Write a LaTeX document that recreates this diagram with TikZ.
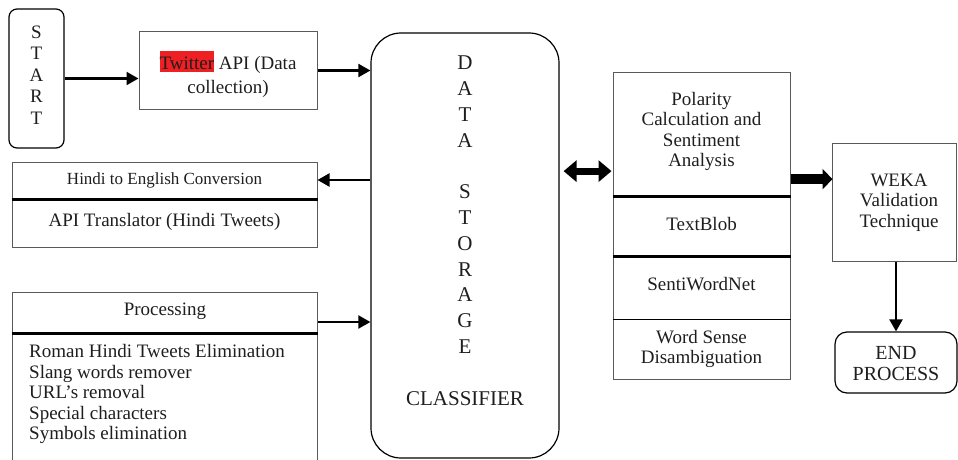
\documentclass[tikz,border=0pt]{standalone}
\usepackage{fontspec}
\setmainfont{Liberation Serif}
\usetikzlibrary{arrows.meta,calc}
\definecolor{twred}{HTML}{EE2024}
\definecolor{edgegray}{HTML}{5A5A5A}
\definecolor{inkgray}{HTML}{1E1E1E}
\begin{document}
\begin{tikzpicture}[x=1pt,y=1pt,
  txt/.style={font=\fontsize{19}{20.5}\selectfont, align=center, inner sep=0, text=inkgray},
  box/.style={draw=edgegray, line width=1pt, inner sep=0},
  roundbox/.style={draw=black, line width=1.2pt, inner sep=0},
  divider/.style={line width=2.4pt},
  thindiv/.style={line width=1.2pt},
  arr/.style={line width=2.1pt, -{Triangle[length=12pt,width=13pt]}},
  fatarr/.style={line width=7pt, {Triangle[length=13pt,width=21pt]}-{Triangle[length=13pt,width=21pt]}},
  widearr/.style={line width=10pt, -{Triangle[length=10pt,width=20pt]}},
]
\useasboundingbox (0,0) rectangle (958,459);

% start terminal
\node[roundbox, rounded corners=8, minimum width=55, minimum height=139] (start) at (36.5,380.5) {};
\node[txt, font=\fontsize{19}{21.5}\selectfont] (startlbl) at (36.5,384) {S\\T\\A\\R\\T};

% data collection
\node[box, minimum width=178, minimum height=77] (twitter) at (228,388.5) {};
\node[txt, font=\fontsize{19}{24}\selectfont] (twitterlbl) at (228,385)
  {{\setlength\fboxsep{0pt}\colorbox{twred}{\rule[-2.5pt]{0pt}{21pt}Twitter}} API (Data\\collection)};

% central store
\node[roundbox, rounded corners=30, minimum width=188, minimum height=425] (ds) at (465,213.5) {};
\node[txt, font=\fontsize{21}{25.8}\selectfont] (dslbl) at (465,228.3)
  {D\\A\\T\\A\\[25.8pt]S\\T\\O\\R\\A\\G\\E\\[25.8pt]CLASSIFIER};

% translation
\node[box, minimum width=305, minimum height=85] (hindi) at (164.5,254.5) {};
\draw[divider] ([yshift=-38]hindi.north west) -- ([yshift=-38]hindi.north east);
\node[txt, font=\fontsize{17}{20}\selectfont] (hinditop) at (164.5,279) {Hindi to English Conversion};
\node[txt] (hindibot) at (164.5,237.5) {API Translator (Hindi Tweets)};

% pre-processing
\node[box, minimum width=305, minimum height=177] (proc) at (164.5,78.5) {};
\draw[divider] ([yshift=-42]proc.north west) -- ([yshift=-42]proc.north east);
\node[txt] (proctop) at (165,148) {Processing};
\node[txt, align=left, anchor=north west] (proclist) at (29,114.5)
  {Roman Hindi Tweets Elimination\\Slang words remover\\URL’s removal\\Special characters\\Symbols elimination};

% sentiment analysis column
\node[box, minimum width=177, minimum height=306] (pol) at (701.5,233) {};
\draw[divider] ([yshift=-124]pol.north west) -- ([yshift=-124]pol.north east);
\draw[divider] ([yshift=-184]pol.north west) -- ([yshift=-184]pol.north east);
\draw[thindiv] ([yshift=-247]pol.north west) -- ([yshift=-247]pol.north east);
\node[txt] (poltop) at (701.5,327.5) {Polarity\\Calculation and\\Sentiment\\Analysis};
\node[txt] (blob) at (701.5,235) {TextBlob};
\node[txt] (swn) at (701.5,175) {SentiWordNet};
\node[txt] (wsd) at (701.5,110) {Word Sense\\Disambiguation};

% validation
\node[box, minimum width=124, minimum height=118] (weka) at (894,257) {};
\node[txt] (wekalbl) at (899,256.5) {WEKA\\Validation\\Technique};

% end terminal
\node[roundbox, rounded corners=12, minimum width=122, minimum height=61] (end) at (896,96.5) {};
\node[txt, font=\fontsize{20}{21}\selectfont] (endlbl) at (896,95.5) {END\\PROCESS};

% connectors
\draw[arr] (start.east) -- (start.east -| twitter.west);
\draw[arr] (twitter.east) -- (twitter.east -| ds.west);
\draw[arr] (hinditop.east -| ds.west) -- (hinditop.east -| hindi.east);
\draw[arr] ($(proc.east |- proctop)+(0,-11)$) -- ($(ds.west |- proctop)+(0,-11)$);
\draw[fatarr] ($(ds.east |- blob.north)+(4,46)$) -- ($(pol.west |- blob.north)+(-1,46)$);
\draw[widearr] ($(pol.east |- blob.north)+(0,38)$) -- ($(weka.west |- blob.north)+(1,38)$);
\draw[arr] (weka.south -| end.north) -- (end.north);
\end{tikzpicture}
\end{document}
